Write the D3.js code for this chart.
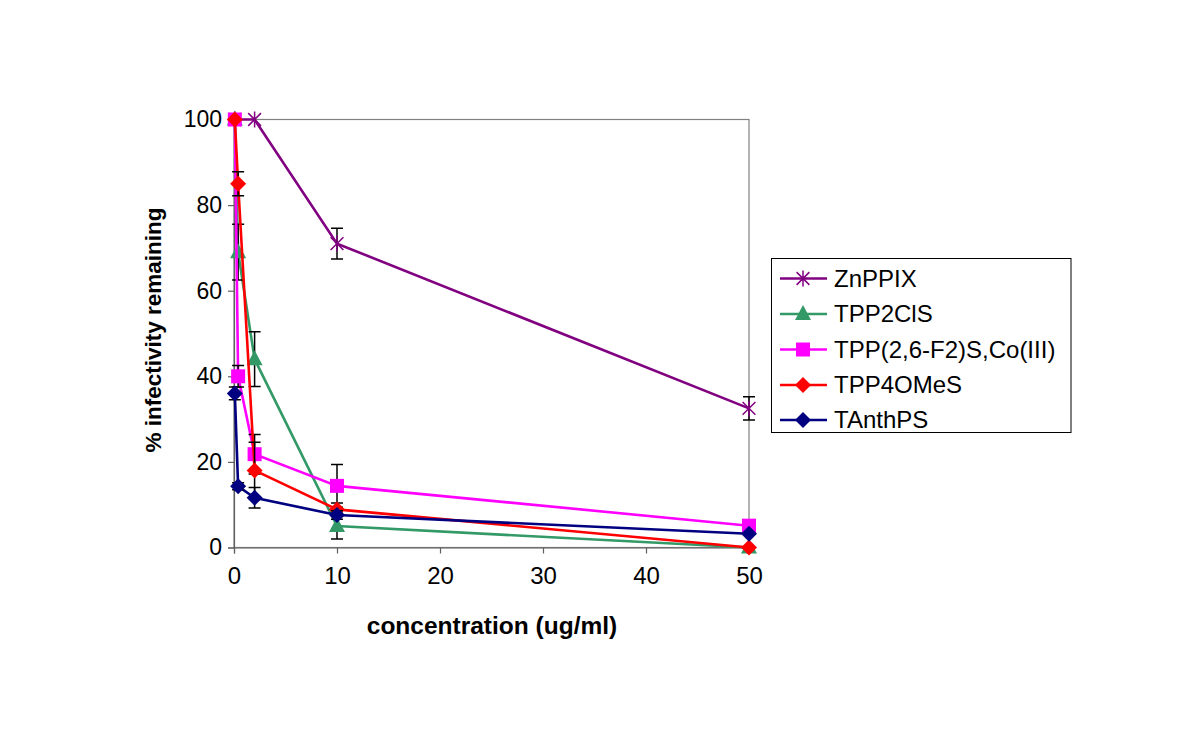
<!DOCTYPE html>
<html><head><meta charset="utf-8">
<script src="https://cdn.jsdelivr.net/npm/d3@7"></script>
<style>body{margin:0;background:#fff}svg{display:block}text{font-family:"Liberation Sans",Arial,sans-serif}</style>
</head><body>
<svg id="c" width="1200" height="749"></svg>
<script>
const seriesNames = ["ZnPPIX","TPP2ClS","TPP(2,6-F2)S,Co(III)","TPP4OMeS","TAnthPS"];
const znX = [0.08, 2, 10, 50];
const znY = [100, 100, 71, 32.5];
const znE = [0, 0, 3.6, 2.7];
const clX = [0.08, 0.4, 2, 10, 50];
const clY = [100, 69, 44, 5, 0];
const clE = [0, 6.5, 6.4, 3, 0];
const coX = [0.08, 0.4, 2, 10, 50];
const coY = [100, 40, 21.8, 14.4, 5.1];
const coE = [0, 2.5, 4.6, 5, 0];
const omX = [0.08, 0.4, 2, 10, 50];
const omY = [100, 85, 18, 8.9, 0];
const omE = [0, 2.8, 6.6, 1.5, 0];
const anX = [0.08, 0.4, 2, 10, 50];
const anY = [36, 14.3, 11.6, 7.6, 3.2];
const anE = [1.5, 0.8, 2.4, 1, 0];
const xTicks = [0, 10, 20, 30, 40, 50];
const yTicks = [0, 20, 40, 60, 80, 100];

const colors = ["#800080","#339966","#FF00FF","#FF0000","#000080"];
const shapes = ["star","triangle","square","diamond","diamond"];
const data = [
  {x:znX,y:znY,e:znE},{x:clX,y:clY,e:clE},{x:coX,y:coY,e:coE},{x:omX,y:omY,e:omE},{x:anX,y:anY,e:anE}
];

const svg = d3.select("#c");
const L=234, R=749, T=119.5, B=547.5;
const x = d3.scaleLinear().domain([0,50]).range([L,R]);
const y = d3.scaleLinear().domain([0,100]).range([B,T]);

svg.append("rect").attr("x",L).attr("y",T).attr("width",R-L).attr("height",B-T)
  .attr("fill","none").attr("stroke","#808080").attr("stroke-width",1.2);

const ya = svg.append("g").attr("transform",`translate(${L},0)`)
  .call(d3.axisLeft(y).tickValues(yTicks).tickSize(6).tickPadding(6));
const xa = svg.append("g").attr("transform",`translate(0,${B})`)
  .call(d3.axisBottom(x).tickValues(xTicks).tickSize(6).tickPadding(13));
[ya,xa].forEach((a,k)=>{
  a.select(".domain").attr("stroke","#606060").attr("stroke-width",1.2);
  a.selectAll(".tick line").attr("stroke","#606060").attr("stroke-width",1.2);
  a.selectAll(".tick text").attr("font-size",k===0?23:24).attr("fill","#000")
   .style("font-family",'"Liberation Sans",Arial,sans-serif');
});

svg.append("text").attr("x",492).attr("y",634).attr("text-anchor","middle")
  .attr("font-size",24.5).attr("font-weight","bold").text("concentration (ug/ml)");
svg.append("text").attr("transform","translate(161,330) rotate(-90)").attr("text-anchor","middle")
  .attr("font-size",22.5).attr("font-weight","bold").text("% infectivity remaining");

function marker(g, shape, color, cx, cy){
  if(shape==="square"){
    g.append("rect").attr("x",cx-7).attr("y",cy-7).attr("width",14).attr("height",14).attr("fill",color);
  } else if(shape==="diamond"){
    g.append("path").attr("d",`M${cx},${cy-8}L${cx+8},${cy}L${cx},${cy+8}L${cx-8},${cy}Z`).attr("fill",color);
  } else if(shape==="triangle"){
    g.append("path").attr("d",`M${cx},${cy-9}L${cx+8},${cy+6}L${cx-8},${cy+6}Z`).attr("fill",color);
  } else if(shape==="star"){
    const r=8;
    g.append("path").attr("d",`M${cx-r*0.8},${cy-r*0.8}L${cx+r*0.8},${cy+r*0.8}M${cx+r*0.8},${cy-r*0.8}L${cx-r*0.8},${cy+r*0.8}M${cx},${cy-r}L${cx},${cy+r}`)
      .attr("stroke",color).attr("stroke-width",1.5).attr("fill","none");
  }
}

const line = d3.line().x(d=>x(d[0])).y(d=>y(d[1]));
data.forEach((s,i)=>{
  const g = svg.append("g");
  const pts = s.x.map((v,j)=>[v,s.y[j],s.e[j]]);
  g.append("path").datum(pts).attr("d",line).attr("fill","none").attr("stroke",colors[i]).attr("stroke-width",2.6);
  pts.forEach(p=>{
    if(p[2]>0){
      const cx=x(p[0]), y1=y(p[1]+p[2]), y2=y(p[1]-p[2]);
      g.append("path").attr("d",`M${cx},${y1}L${cx},${y2}M${cx-6},${y1}L${cx+6},${y1}M${cx-6},${y2}L${cx+6},${y2}`)
        .attr("stroke","#000").attr("stroke-width",1.5).attr("fill","none");
    }
  });
  pts.forEach(p=>marker(g, shapes[i], colors[i], x(p[0]), y(p[1])));
});

const lg = svg.append("g");
lg.append("rect").attr("x",771.5).attr("y",258.5).attr("width",299.5).attr("height",174)
  .attr("fill","#fff").attr("stroke","#000").attr("stroke-width",1);
const ly = [278.5,314,349.5,385,420];
seriesNames.forEach((n,i)=>{
  lg.append("line").attr("x1",780).attr("x2",827).attr("y1",ly[i]).attr("y2",ly[i]).attr("stroke",colors[i]).attr("stroke-width",2.6);
  marker(lg, shapes[i], colors[i], 803, ly[i]);
  lg.append("text").attr("x",834).attr("y",ly[i]+8).attr("font-size",24).text(n);
});
</script>
</body></html>
